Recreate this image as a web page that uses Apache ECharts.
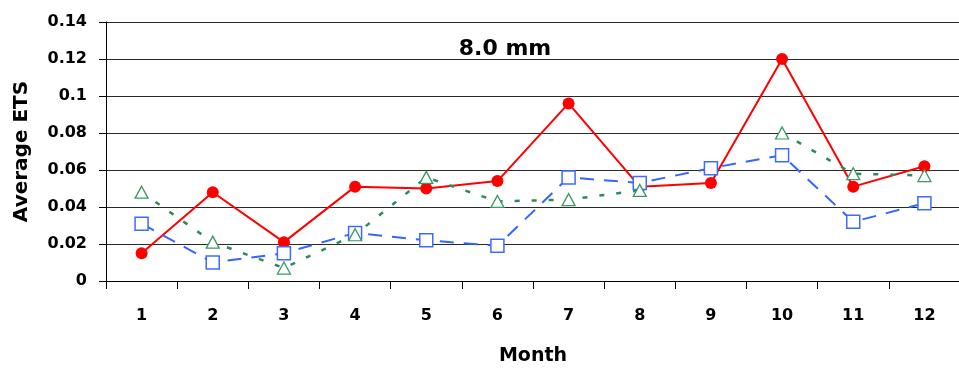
<!DOCTYPE html>
<html>
<head>
<meta charset="utf-8">
<script src="https://cdn.jsdelivr.net/npm/echarts@6/dist/echarts.min.js"></script>
<style>
  html, body { margin: 0; padding: 0; background: #fff; }
  #chart { width: 959px; height: 368px; }
</style>
</head>
<body>
<div id="chart"></div>
<script>
// Monthly average ETS, 8.0 mm threshold
const months = ['1', '2', '3', '4', '5', '6', '7', '8', '9', '10', '11', '12'];
const seriesRed   = [0.015, 0.048, 0.021, 0.051, 0.050, 0.054, 0.096, 0.051, 0.053, 0.120, 0.051, 0.062];
const seriesBlue  = [0.031, 0.010, 0.015, 0.026, 0.022, 0.019, 0.056, 0.053, 0.061, 0.068, 0.032, 0.042];
const seriesGreen = [0.048, 0.021, 0.007, 0.025, 0.056, 0.043, 0.044, 0.049, null, 0.080, 0.058, 0.057];
const titleText = '8.0 mm';

const FONT = '"DejaVu Sans", "Liberation Sans", Arial, sans-serif';

const chart = echarts.init(document.getElementById('chart'), null, { renderer: 'canvas' });

chart.setOption({
  backgroundColor: '#ffffff',
  animation: false,
  title: {
    text: titleText,
    left: 500,
    top: 33,
    textAlign: 'center',
    textStyle: { fontFamily: FONT, fontSize: 22, fontWeight: 'bold', color: '#000' }
  },
  grid: { left: 106, right: -1, top: 22, bottom: 87, containLabel: false, outerBoundsMode: 'none' },
  xAxis: {
    type: 'category',
    data: months,
    boundaryGap: true,
    name: 'Month',
    nameLocation: 'middle',
    nameGap: 66,
    nameTextStyle: { fontFamily: FONT, fontSize: 19, fontWeight: 'bold', color: '#000' },
    axisLine: { lineStyle: { color: '#000', width: 1 } },
    axisTick: { show: true, interval: 0, length: 8, lineStyle: { color: '#000' } },
    axisLabel: { interval: 0, margin: 27, fontFamily: FONT, fontSize: 16, fontWeight: 'bold', color: '#000' },
    splitLine: { show: false }
  },
  yAxis: {
    type: 'value',
    min: 0,
    max: 0.14,
    interval: 0.02,
    name: 'Average ETS',
    nameLocation: 'middle',
    nameGap: 74,
    nameRotate: 90,
    nameTextStyle: { fontFamily: FONT, fontSize: 20, fontWeight: 'bold', color: '#000' },
    axisLine: { show: true, lineStyle: { color: '#000', width: 1 } },
    axisTick: { show: true, length: 7, lineStyle: { color: '#000' } },
    axisLabel: {
      margin: 19,
      fontFamily: FONT,
      fontSize: 16,
      fontWeight: 'bold',
      color: '#000',
      formatter: v => String(parseFloat(v.toFixed(2)))
    },
    splitLine: { show: true, lineStyle: { color: '#2a2a2a', width: 1.2 } }
  },
  series: [
    {
      name: 'red',
      type: 'line',
      data: seriesRed,
      symbol: 'circle',
      symbolSize: 12,
      lineStyle: { color: '#ff0000', width: 2 },
      itemStyle: { color: '#ff0000' }
    },
    {
      name: 'blue',
      type: 'line',
      data: seriesBlue,
      symbol: 'rect',
      symbolSize: 13,
      lineStyle: { color: '#3366ff', width: 2, type: [14, 10] },
      itemStyle: { color: '#ffffff', borderColor: '#3b6cff', borderWidth: 1.5 }
    },
    {
      name: 'green',
      type: 'line',
      data: seriesGreen,
      symbol: 'triangle',
      symbolSize: [13, 12],
      connectNulls: false,
      lineStyle: { color: '#2e8b57', width: 2.5, type: [5, 12] },
      itemStyle: { color: '#ffffff', borderColor: '#3a9a64', borderWidth: 1.3 }
    }
  ]
});
</script>
</body>
</html>
